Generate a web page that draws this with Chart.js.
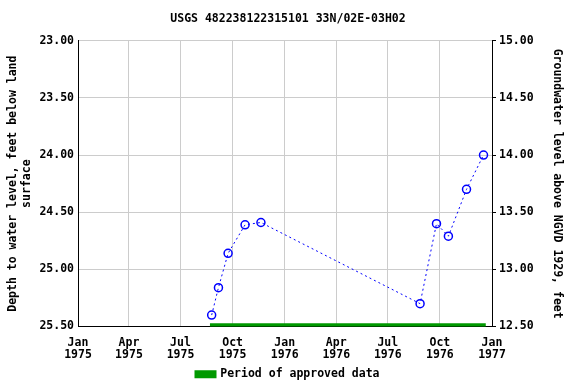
<!DOCTYPE html>
<html>
<head>
<meta charset="utf-8">
<script src="https://cdn.jsdelivr.net/npm/chart.js@4"></script>
<style>
  html, body { margin: 0; padding: 0; background: #fff; }
  #wrap { width: 576px; height: 384px; }
</style>
</head>
<body>
<div id="wrap"><canvas id="grafico" width="576" height="384"></canvas></div>
<script>
// datos
const fechas = ['1975-08-25', '1975-09-06', '1975-09-23', '1975-10-23', '1975-11-20',
                '1976-08-27', '1976-09-25', '1976-10-16', '1976-11-17', '1976-12-17'];
const profundidad = [25.40, 25.16, 24.86, 24.61, 24.59, 25.30, 24.60, 24.71, 24.30, 24.00];

const periodoAprobado = ['1975-08-22', '1976-12-21'];
const nivelAprobado = 25.49;

const mesesTicks = ['1975-01-01', '1975-04-01', '1975-07-01', '1975-10-01', '1976-01-01',
                    '1976-04-01', '1976-07-01', '1976-10-01', '1977-01-01'];
const etiquetasX = [['Jan', '1975'], ['Apr', '1975'], ['Jul', '1975'], ['Oct', '1975'], ['Jan', '1976'],
                    ['Apr', '1976'], ['Jul', '1976'], ['Oct', '1976'], ['Jan', '1977']];
const ticksIzq = [23.00, 23.50, 24.00, 24.50, 25.00, 25.50];
const ticksDer = [15.00, 14.50, 14.00, 13.50, 13.00, 12.50];

const fuente = { family: 'DejaVu Sans Mono', size: 11.5, weight: 'bold' };
const xMin = Date.parse(mesesTicks[0]);
const xMax = Date.parse(mesesTicks[mesesTicks.length - 1]);

const ctx = document.getElementById('grafico');

new Chart(ctx, {
    type: 'scatter',
    data: {
        datasets: [
            {
                label: 'niveles',
                data: fechas.map((f, i) => ({ x: Date.parse(f), y: profundidad[i] })),
                showLine: true,
                borderColor: '#0000ff',
                borderWidth: 1,
                borderDash: [2, 3],
                pointRadius: 4,
                pointBorderWidth: 1.5,
                pointBorderColor: '#0000ff',
                pointBackgroundColor: 'rgba(0,0,0,0)',
                yAxisID: 'y'
            },
            {
                label: 'Period of approved data',
                data: periodoAprobado.map(f => ({ x: Date.parse(f), y: nivelAprobado })),
                showLine: true,
                borderColor: '#009900',
                backgroundColor: '#009900',
                borderWidth: 4,
                pointRadius: 0,
                yAxisID: 'y'
            }
        ]
    },
    options: {
        responsive: false,
        animation: false,
        layout: { padding: { left: 0, right: 0, top: 0, bottom: -6 } },
        plugins: {
            title: {
                display: true,
                text: 'USGS 482238122315101 33N/02E-03H02',
                color: '#000',
                font: fuente,
                padding: { top: 12, bottom: 15 }
            },
            legend: {
                position: 'bottom',
                labels: {
                    filter: item => item.text === 'Period of approved data',
                    color: '#000',
                    font: fuente,
                    boxWidth: 18,
                    boxHeight: 4,
                    padding: 4
                }
            },
            tooltip: { enabled: false }
        },
        scales: {
            x: {
                type: 'linear',
                min: xMin,
                max: xMax,
                afterBuildTicks: scale => {
                    scale.ticks = mesesTicks.map(m => ({ value: Date.parse(m) }));
                },
                afterFit: scale => { scale.height = 38; },
                ticks: {
                    color: '#000',
                    font: { family: 'DejaVu Sans Mono', size: 11.5, weight: 'bold', lineHeight: 1.0 },
                    maxRotation: 0,
                    autoSkip: false,
                    padding: 11,
                    callback: (v, i) => etiquetasX[i]
                },
                grid: { color: '#cccccc', drawTicks: false },
                border: { color: '#000', width: 1 }
            },
            y: {
                position: 'left',
                reverse: true,
                min: 23,
                max: 25.5,
                afterBuildTicks: scale => {
                    scale.ticks = ticksIzq.map(v => ({ value: v }));
                },
                afterFit: scale => { scale.width = 78; },
                ticks: {
                    color: '#000',
                    font: fuente,
                    padding: 4,
                    callback: v => v.toFixed(2)
                },
                title: {
                    display: true,
                    text: ['Depth to water level, feet below land', 'surface'],
                    color: '#000',
                    font: fuente,
                    padding: { top: 6, bottom: 0 }
                },
                grid: { color: '#cccccc', drawTicks: false },
                border: { color: '#000', width: 1 }
            },
            y2: {
                position: 'right',
                display: true,
                min: 12.5,
                max: 15,
                afterBuildTicks: scale => {
                    scale.ticks = ticksDer.map(v => ({ value: v }));
                },
                afterFit: scale => { scale.width = 84; },
                ticks: {
                    color: '#000',
                    font: fuente,
                    padding: 3,
                    callback: v => v.toFixed(2)
                },
                title: {
                    display: true,
                    text: 'Groundwater level above NGVD 1929, feet',
                    color: '#000',
                    font: fuente,
                    padding: { top: 12, bottom: 0 }
                },
                grid: { drawOnChartArea: false, color: '#000', tickLength: 4 },
                border: { color: '#000', width: 1 }
            }
        }
    }
});
</script>
</body>
</html>
